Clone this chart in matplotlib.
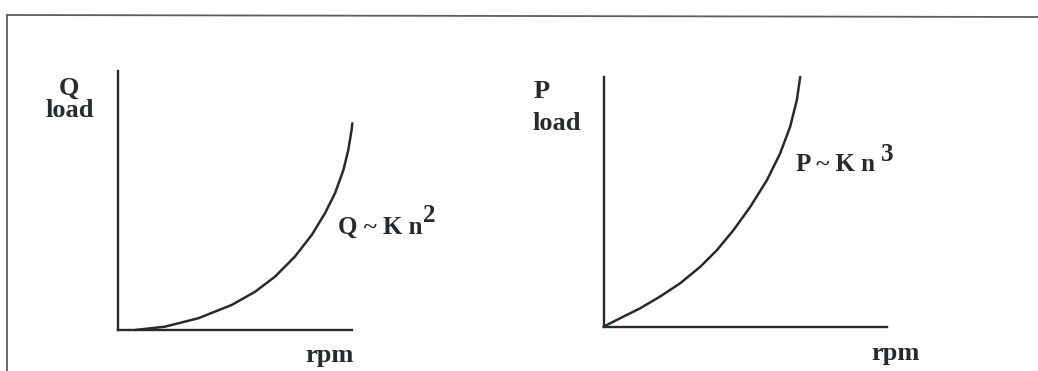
import matplotlib.pyplot as plt
from matplotlib.lines import Line2D

# flow vs speed (fraction of max rpm, fraction of max flow)
q_rpm = [0.073, 0.2, 0.343, 0.485, 0.585, 0.67, 0.755, 0.827, 0.883, 0.926, 0.962, 0.983, 0.997, 1.0]
q_load = [0.0, 0.016, 0.057, 0.121, 0.185, 0.258, 0.355, 0.46, 0.564, 0.661, 0.774, 0.871, 0.968, 1.0]

# power vs speed
p_rpm = [0.0, 0.085, 0.187, 0.288, 0.39, 0.492, 0.577, 0.661, 0.746, 0.831, 0.898, 0.949, 0.983, 1.0]
p_load = [0.0, 0.034, 0.074, 0.121, 0.174, 0.24, 0.307, 0.387, 0.48, 0.587, 0.694, 0.801, 0.908, 1.0]

W, H = 1038, 371
ink = '#262b2e'
font = dict(family='Liberation Serif', weight='bold', color=ink)

fig = plt.figure(figsize=(W / 100, H / 100), dpi=100)

def px(x, y):
    # pixel position measured from the top-left corner -> figure fraction
    return x / W, 1 - y / H

def panel(left, top, right, bottom):
    x0, y0 = px(left, bottom)
    x1, y1 = px(right, top)
    ax = fig.add_axes([x0, y0, x1 - x0, y1 - y0])
    for s in ('top', 'right'):
        ax.spines[s].set_visible(False)
    for s in ('left', 'bottom'):
        ax.spines[s].set_linewidth(1.7)
        ax.spines[s].set_color(ink)
    ax.set_xticks([])
    ax.set_yticks([])
    ax.patch.set_alpha(0)
    return ax

# left: Q ~ K n^2
ax1 = panel(118, 71, 352, 330)
ax1.plot(q_rpm, q_load, color=ink, lw=1.8, solid_capstyle='round', clip_on=False)
ax1.set_xlim(0, 234 / 234.3)
ax1.set_ylim(0, 259 / 206.7)

# right: P ~ K n^3
ax2 = panel(603.5, 77, 887, 326.7)
ax2.plot(p_rpm, p_load, color=ink, lw=1.8, solid_capstyle='round', clip_on=False)
ax2.set_xlim(0, 283.5 / 196.7)
ax2.set_ylim(0, 1)

def label(x, y, s, size=19, ha='center'):
    # y is the text baseline
    fig.text(*px(x, y), s, fontsize=size, ha=ha, va='baseline', **font)

label(69, 95, 'Q')
label(69.5, 117, 'load')
label(330, 362, 'rpm')
label(338, 234, 'Q ~ K n', size=18, ha='left')
label(423, 222, '2', size=18, ha='left')

label(542, 98, 'P')
label(557, 130, 'load')
label(896, 360, 'rpm')
label(796, 171, 'P ~ K n', size=18, ha='left')
label(881, 161, '3', size=18, ha='left')

# outer frame: top edge and left edge
fig.add_artist(Line2D([7 / W, 1], [1 - 15 / H, 1 - 17 / H], color='#5a5e60', lw=1.3))
fig.add_artist(Line2D([7 / W, 7 / W], [1 - 15 / H, 0], color='#5a5e60', lw=1.3))

fig.savefig('out.png', dpi=100)
